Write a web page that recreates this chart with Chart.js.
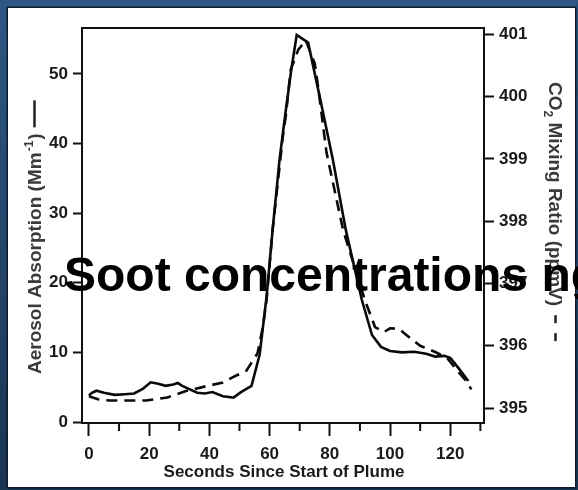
<!DOCTYPE html>
<html>
<head>
<meta charset="utf-8">
<script src="https://cdn.jsdelivr.net/npm/chart.js@4.4.0/dist/chart.umd.min.js"></script>
<style>
html,body{margin:0;padding:0;background:#fff;}
#wrap{width:578px;height:490px;}
</style>
</head>
<body>
<div id="wrap"><canvas id="c" width="578" height="490"></canvas></div>
<script>
// Aerosol absorption (solid, left axis, Mm^-1)
const absSeconds = [0,1,2.5,5,8.5,12,15,18,20.5,23,25.5,28,29.5,31,33.5,36,38.5,41,44.5,48,50.5,54,56.7,59,61,63.3,65.3,67.2,69,72.8,77,81,85.3,90.6,94,97,100,104,108,112,115,118,120,123,126];
const absorption = [3.8,4.2,4.5,4.2,3.9,4.0,4.1,4.8,5.7,5.5,5.2,5.4,5.6,5.2,4.7,4.2,4.1,4.3,3.7,3.5,4.3,5.2,9.7,18,27.6,37.7,44.5,50.6,55.6,54.5,46,37.7,27.6,17.6,12.5,10.8,10.2,10.0,10.1,9.8,9.4,9.5,9.2,7.6,5.9];
// CO2 mixing ratio (dashed, right axis, ppmV)
const co2Seconds = [0,3,7,13,19,26,32,38,44.5,48,52.3,56,57.8,59,61,64.4,65.4,67,69.5,72,75,76.1,78.9,84.4,91.6,95,98,100,103,106,110,115,119,122,125,127];
const co2 = [395.19,395.14,395.12,395.12,395.12,395.17,395.27,395.34,395.41,395.50,395.60,395.88,396.31,396.74,397.86,399.36,399.7,400.43,400.75,400.9,400.53,400.16,399.1,397.86,396.74,396.3,396.22,396.28,396.27,396.15,396.0,395.9,395.8,395.62,395.45,395.3];

const titleText = 'Soot concentrations ng';
const xTitle = 'Seconds Since Start of Plume';
const leftTitle = ['Aerosol Absorption (Mm', '-1', ')'];
const rightTitle = ['CO', '2', ' Mixing Ratio (ppmV)'];

const FONT = "'Liberation Sans', Arial, Helvetica, sans-serif";
Chart.defaults.font.family = FONT;

const absData = absSeconds.map((t,i)=>({x:t,y:absorption[i]}));
const co2Data = co2Seconds.map((t,i)=>({x:t,y:co2[i]}));

const decor = {
  id:'decor',
  beforeDraw(chart){
    const c = chart.ctx, W = chart.width, H = chart.height;
    c.save();
    const g = c.createLinearGradient(0,0,0,H);
    g.addColorStop(0,'#2d5884');
    g.addColorStop(1,'#1b3452');
    c.fillStyle = g;
    c.fillRect(0,0,W,H);
    c.fillStyle = '#ffffff';
    c.fillRect(8,8,567,479);
    c.strokeStyle = '#0e1b2c';
    c.lineWidth = 1.5;
    c.strokeRect(7.25,7.25,568.5,480.5);
    c.restore();
  },
  afterDraw(chart){
    const c = chart.ctx, a = chart.chartArea;
    const xs = chart.scales.x;
    c.save();
    // plot box
    c.strokeStyle = '#111';
    c.lineWidth = 2;
    c.strokeRect(a.left, a.top, a.right - a.left, a.bottom - a.top);
    // minor x ticks
    c.lineWidth = 2;
    for (let v = 10; v <= 130; v += 20) {
      const px = xs.getPixelForValue(v);
      c.beginPath(); c.moveTo(px, a.bottom); c.lineTo(px, a.bottom + 8); c.stroke();
    }
    // x title
    c.fillStyle = '#1a1a1a';
    c.font = 'bold 17px ' + FONT;
    c.textAlign = 'center';
    c.textBaseline = 'alphabetic';
    c.fillText(xTitle, 284, 477);

    // left title (rotated, bottom to top)
    c.fillStyle = '#3a3a3a';
    c.strokeStyle = '#222';
    c.save();
    c.translate(41, 374);
    c.rotate(-Math.PI/2);
    c.textAlign = 'left';
    c.font = 'bold 19px ' + FONT;
    let x = 0;
    c.fillText(leftTitle[0], x, 0); x += c.measureText(leftTitle[0]).width + 1;
    c.font = 'bold 12px ' + FONT;
    c.fillText(leftTitle[1], x, -8); x += c.measureText(leftTitle[1]).width + 1;
    c.font = 'bold 19px ' + FONT;
    c.fillText(leftTitle[2], x, 0); x += c.measureText(leftTitle[2]).width + 6;
    c.lineWidth = 2.5;
    c.beginPath(); c.moveTo(x, -6.5); c.lineTo(x + 27, -6.5); c.stroke();
    c.restore();

    // right title (rotated, top to bottom)
    c.save();
    c.translate(549, 82);
    c.rotate(Math.PI/2);
    c.textAlign = 'left';
    c.font = 'bold 19px ' + FONT;
    x = 0;
    c.fillText(rightTitle[0], x, 0); x += c.measureText(rightTitle[0]).width;
    c.font = 'bold 12px ' + FONT;
    c.fillText(rightTitle[1], x, 5); x += c.measureText(rightTitle[1]).width;
    c.font = 'bold 19px ' + FONT;
    c.fillText(rightTitle[2], x, 0); x += c.measureText(rightTitle[2]).width + 9;
    c.lineWidth = 2.5;
    c.beginPath(); c.moveTo(x, -6.5); c.lineTo(x + 8, -6.5); c.stroke();
    c.beginPath(); c.moveTo(x + 18, -6.5); c.lineTo(x + 26, -6.5); c.stroke();
    c.restore();

    // overlay title
    c.fillStyle = '#000';
    c.font = 'bold 48px ' + FONT;
    c.textAlign = 'left';
    c.textBaseline = 'alphabetic';
    c.fillText(titleText, 64, 291);
    c.restore();
  }
};

new Chart(document.getElementById('c'), {
  type: 'line',
  data: {
    datasets: [
      {data: absData, yAxisID: 'y', borderColor: '#0a0a0a', borderWidth: 2.6, pointRadius: 0, tension: 0, fill: false},
      {data: co2Data, yAxisID: 'y2', borderColor: '#0a0a0a', borderWidth: 2.6, borderDash: [11,7], pointRadius: 0, tension: 0, fill: false}
    ]
  },
  options: {
    responsive: false,
    animation: false,
    devicePixelRatio: 1,
    layout: {padding: {top: 28, left: 0, right: 0, bottom: 0}},
    plugins: {legend: {display: false}, title: {display: false}, tooltip: {enabled: false}},
    scales: {
      x: {
        type: 'linear', position: 'bottom', min: -2.3, max: 131.2,
        afterFit(s){ s.height = 67; },
        border: {display: false},
        grid: {drawOnChartArea: false, drawTicks: true, tickLength: 13, tickWidth: 2,
               tickColor: ctx => (ctx.tick && ctx.tick.value % 20 === 0) ? '#111' : 'rgba(0,0,0,0)'},
        ticks: {stepSize: 10, includeBounds: false, padding: 8, color: '#1a1a1a', maxRotation: 0, autoSkip: false,
                font: {size: 17, weight: 'bold'},
                callback: v => (v % 20 === 0) ? String(v) : ''}
      },
      y: {
        type: 'linear', position: 'left', min: -0.14, max: 56.6,
        afterFit(s){ s.width = 82; },
        border: {display: false},
        grid: {drawOnChartArea: false, drawTicks: true, tickLength: 9, tickWidth: 2, tickColor: '#111'},
        ticks: {stepSize: 10, includeBounds: false, padding: 5, color: '#1a1a1a', font: {size: 17, weight: 'bold'}}
      },
      y2: {
        type: 'linear', position: 'right', min: 394.76, max: 401.1,
        afterFit(s){ s.width = 94; },
        border: {display: false},
        grid: {drawOnChartArea: false, drawTicks: true, tickLength: 10, tickWidth: 2, tickColor: '#111'},
        ticks: {stepSize: 1, includeBounds: false, padding: 5, color: '#1a1a1a', font: {size: 17, weight: 'bold'}}
      }
    }
  },
  plugins: [decor]
});
</script>
</body>
</html>
